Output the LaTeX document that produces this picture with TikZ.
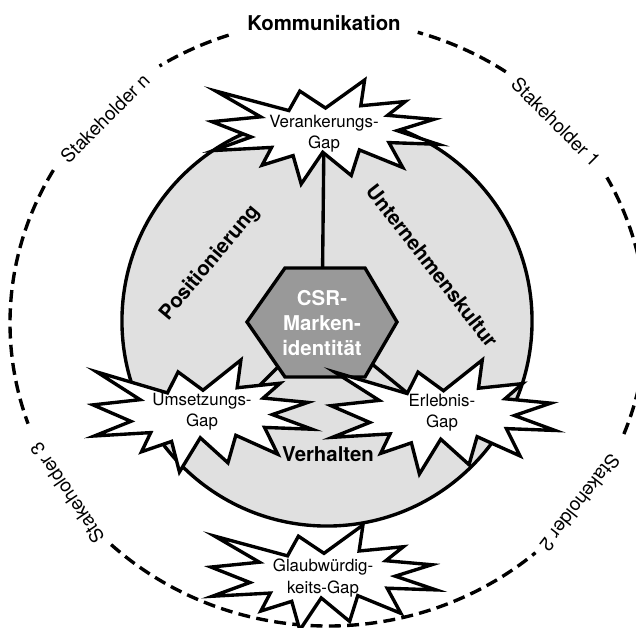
\documentclass[tikz,border=0pt]{standalone}
\usepackage{fontspec}
\setmainfont{TeX Gyre Heros}
\usetikzlibrary{calc}

\pgfdeclarelayer{disc}
\pgfdeclarelayer{links}
\pgfsetlayers{disc,links,main}

% explosion outline, normalised to [-1,1]x[-1,1]
\newcommand{\burstpath}{(0.0045,0.4604) -- (-0.2229,0.7866) -- (-0.3197,0.4120) -- (-0.9656,0.7866)
    -- (-0.5696,0.2913) -- (-1,0.1987) -- (-0.6537,-0.0956) -- (-0.9873,-0.3569)
    -- (-0.4728,-0.2966) -- (-0.5569,-0.6389) -- (-0.2823,-0.4538) -- (-0.2106,-1)
    -- (-0.0201,-0.3894) -- (0.2323,-0.8362) -- (0.3045,-0.3450) -- (0.6881,-0.6832)
    -- (0.5662,-0.2039) -- (1,-0.2363) -- (0.6380,0.0255) -- (0.9626,0.2430)
    -- (0.5539,0.3197) -- (0.7099,0.5856) -- (0.3167,0.5047) -- (0.3508,1) -- cycle}

\begin{document}
\begin{tikzpicture}[x=0.025cm,y=0.025cm,
    ring/.style={line width=2.4pt,dash pattern=on 8.5pt off 4.5pt},
    thickline/.style={line width=2.4pt},
    burst/.style={thickline,draw,fill=white},
    gaptext/.style={inner sep=1pt,align=center,font=\fontsize{12}{15}\selectfont},
    holder/.style={font=\fontsize{13.5}{16}\selectfont},
    pillar/.style={font=\fontsize{14.5}{17}\selectfont\bfseries}]

    \useasboundingbox (-328,323) rectangle (308,-305);
    \clip (-328,323) rectangle (308,-305);

    \begin{pgfonlayer}{disc}
    % Kommunikation ring
    \foreach \a/\b in {108.2/122,149.7/199.4,227/310.7,338.5/388.7,56/73.6}
        \draw[ring] (\a:318 and 303) arc[start angle=\a,end angle=\b,x radius=7.95cm,y radius=7.575cm];
    \draw[thickline,fill=black!12] (-1,2) circle[radius=5.125cm];
    \end{pgfonlayer}

    \node[pillar] (komm) at (-4,300) {Kommunikation};
    \node[holder,rotate=45] (shn) at (-223,205) {Stakeholder n};
    \node[holder,rotate=-45] (sh1) at (228,201) {Stakeholder 1};
    \node[holder,rotate=-128] (sh2) at (252,-180) {Stakeholder 2};
    \node[holder,rotate=124] (sh3) at (-261,-170) {Stakeholder 3};

    % Markenidentitaet
    \draw[thickline,fill=black!40] (-81,1) -- (-43,55) -- (37,55) -- (69,1) -- (37,-54) -- (-43,-54) -- cycle;
    \node[pillar,text=white,align=center,font=\fontsize{14.5}{18}\selectfont\bfseries] (csr) at (-6,0) {CSR-\\Marken-\\identität};

    % gaps
    \draw[burst,shift={(-3,191)},xscale=113,yscale=52] \burstpath;
    \draw[burst,shift={(-125.5,-93)},xscale=109.5,yscale=56] \burstpath;
    \draw[burst,shift={(115,-94)},xscale=112,yscale=57] \burstpath;
    \draw[burst,shift={(-4.5,-254.5)},xscale=112.5,yscale=52.5] \burstpath;

    \node[gaptext] (verank) at (-4,189) {Verankerungs-\\Gap};
    \node[gaptext] (umsetz) at (-126,-89) {Umsetzungs-\\Gap};
    \node[gaptext] (erleb) at (114,-90) {Erlebnis-\\Gap};
    \node[gaptext] (glaub) at (-5,-255) {Glaubwürdig-\\keits-Gap};

    \begin{pgfonlayer}{links}
    \draw[thickline] (csr) -- (verank);
    \draw[thickline] (csr) -- (umsetz.north east);
    \draw[thickline] (csr) -- (erleb.north west);
    \end{pgfonlayer}

    \node[pillar,rotate=50] (pos) at (-118,60) {Positionierung};
    \node[pillar,rotate=-52] (kult) at (104,57) {Unternehmenskultur};
    \node[pillar] (verh) at (0,-131) {Verhalten};

\end{tikzpicture}
\end{document}
